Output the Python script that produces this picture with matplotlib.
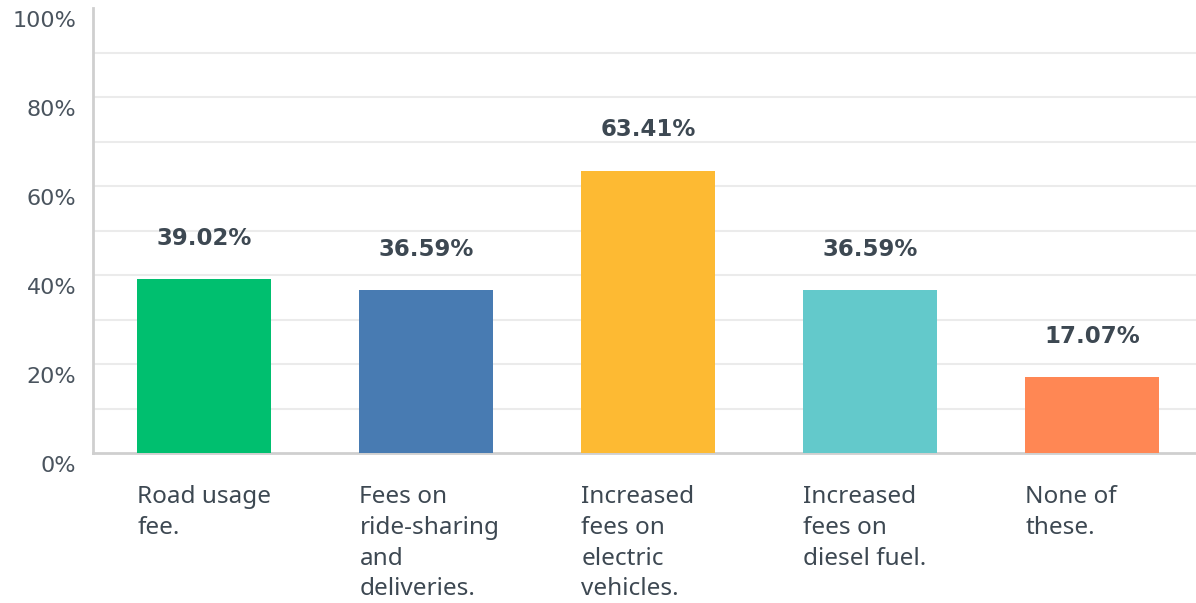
import numpy as np
import matplotlib.pyplot as plt
import matplotlib.transforms as mtransforms
from matplotlib.ticker import MultipleLocator, FuncFormatter

categories = ["Road usage\nfee.",
              "Fees on\nride-sharing\nand\ndeliveries.",
              "Increased\nfees on\nelectric\nvehicles.",
              "Increased\nfees on\ndiesel fuel.",
              "None of\nthese."]
values = [39.02, 36.59, 63.41, 36.59, 17.07]
colors = ["#00bf6f", "#487bb2", "#fdba33", "#63c9cb", "#ff8754"]

text_col = "#3d4852"

fig = plt.figure(figsize=(11.96, 6.03), dpi=100)
W, H = 1196, 603
# axes spans x: 93 -> 1203 px, y: 8 -> 453 px (from top)
ax = fig.add_axes([93 / W, (H - 453) / H, 1110 / W, 445 / H])

x = np.arange(len(values))
ax.bar(x, values, width=0.6, color=colors, zorder=3)

ax.set_xlim(-0.5, len(values) - 0.5)
ax.set_ylim(0, 100)
ax.yaxis.set_major_locator(MultipleLocator(20))
ax.yaxis.set_major_formatter(FuncFormatter(lambda v, p: f"{int(v)}%"))
# light gridlines every 10%, none at the top
for g in range(10, 100, 10):
    ax.axhline(g, color="#ebebeb", linewidth=1.5, zorder=0)

for s in ["top", "right"]:
    ax.spines[s].set_visible(False)
for s in ["left", "bottom"]:
    ax.spines[s].set_color("#cfcfcf")
    ax.spines[s].set_linewidth(2)
ax.spines["left"].set_bounds(0, 100)

ax.tick_params(axis="y", length=0, pad=12, labelsize=16, labelcolor="#4a545e")
shift = mtransforms.ScaledTranslation(0, -11 / 100, fig.dpi_scale_trans)
for lbl in ax.get_yticklabels():
    lbl.set_fontfamily("DejaVu Sans")
    lbl.set_transform(lbl.get_transform() + shift)

ax.set_xticks(x)
ax.set_xticklabels([])
ax.tick_params(axis="x", length=0)
for xi, cat in zip(x, categories):
    ax.annotate(cat, xy=(xi - 0.3, 0), xycoords="data",
                xytext=(0, -23), textcoords="offset points",
                ha="left", va="top", fontsize=17.5, color=text_col,
                family="Noto Sans", linespacing=1.38)

for xi, v in zip(x, values):
    ax.annotate(f"{v:.2f}%", xy=(xi, v), xytext=(0, 29.5),
                textcoords="offset points", ha="center", va="center",
                fontsize=16.5, fontweight="bold", color=text_col,
                family="DejaVu Sans")

fig.savefig("out.png", dpi=100)
